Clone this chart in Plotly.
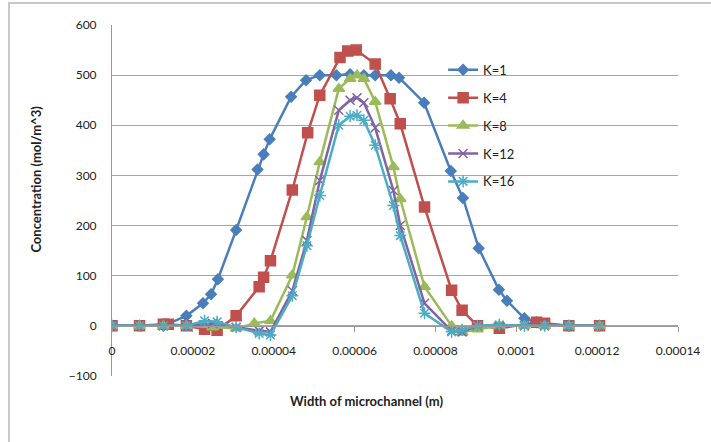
import plotly.graph_objects as go

# x positions in units of 1e-5 m
x_k1 = [0, 0.68, 1.27, 1.84, 2.25, 2.45, 2.62, 3.07, 3.6, 3.75, 3.9, 4.43, 4.8, 5.14, 5.55,
        5.89, 6.23, 6.51, 6.9, 7.1, 7.72, 8.38, 8.68, 9.07, 9.57, 9.77, 10.2, 10.5, 10.7, 11.3, 12.06]
y_k1 = [0, 0, 0, 20, 45, 63, 93, 191, 312, 342, 372, 457, 490, 500, 500,
        502, 500, 500, 500, 495, 445, 309, 255, 155, 72, 50, 15, 7, 3, 0, 0]

x_k4 = [0, 0.68, 1.27, 1.39, 1.84, 2.29, 2.6, 3.07, 3.64, 3.75, 3.92, 4.46, 4.84, 5.14, 5.64,
        5.83, 6.04, 6.51, 6.88, 7.13, 7.73, 8.4, 8.66, 9.04, 9.58, 10.5, 10.7, 11.3, 12.06]
y_k4 = [0, 0, 3, 3, 0, -7, -9, 20, 78, 97, 130, 271, 385, 460, 535,
        548, 550, 522, 453, 403, 237, 71, 31, 0, -5, 7, 5, 0, 0]

x_k8 = [0, 0.68, 1.27, 1.84, 2.49, 3.07, 3.52, 3.92, 4.46, 4.82, 5.14, 5.61, 5.89, 6.06,
        6.23, 6.51, 6.96, 7.13, 7.73, 8.4, 8.66, 9.04, 9.58, 10.2, 10.7, 11.3, 12.06]
y_k8 = [0, 0, 0, 0, -3, -5, 5, 10, 101, 217, 327, 473, 493, 500,
        493, 447, 317, 253, 78, 0, -13, -7, 0, 0, 0, 0, 0]

x_k12 = [0, 0.68, 1.27, 1.84, 2.49, 3.07, 3.64, 3.92, 4.46, 4.82, 5.14, 5.61, 5.89, 6.06,
         6.23, 6.51, 6.96, 7.13, 7.73, 8.4, 8.66, 9.04, 9.58, 10.2, 10.7, 11.3, 12.06]
y_k12 = [0, 0, 0, 0, 5, -3, -10, -12, 70, 170, 290, 430, 450, 455,
         445, 395, 270, 200, 45, -10, -12, 0, 0, 0, 0, 0, 0]

x_k16 = [0, 0.68, 1.27, 1.84, 2.29, 2.6, 3.07, 3.64, 3.92, 4.46, 4.82, 5.14, 5.61, 5.89, 6.06,
         6.23, 6.51, 6.96, 7.13, 7.73, 8.4, 8.66, 9.04, 9.58, 10.2, 10.7, 11.3, 12.06]
y_k16 = [0, 0, 0, 0, 10, 8, -3, -15, -18, 60, 160, 260, 400, 418, 420,
         410, 360, 240, 180, 25, -12, -8, 0, 2, 0, 0, 0, 0]

series_names = ["K=1", "K=4", "K=8", "K=12", "K=16"]
x_tick_vals = [0, 0.00002, 0.00004, 0.00006, 0.00008, 0.0001, 0.00012, 0.00014]
x_tick_text = ["0", "0.00002", "0.00004", "0.00006", "0.00008", "0.0001", "0.00012", "0.00014"]
y_tick_vals = [-100, 0, 100, 200, 300, 400, 500, 600]

colors = ["#4A7EBB", "#C0504D", "#9BBB59", "#8064A2", "#4BACC6"]
symbols = ["diamond", "square", "triangle-up", "x-thin-open", "asterisk-open"]
sizes = [8, 10, 10, 9, 10]

xs = [x_k1, x_k4, x_k8, x_k12, x_k16]
ys = [y_k1, y_k4, y_k8, y_k12, y_k16]

fig = go.Figure()
for i, name in enumerate(series_names):
    fig.add_trace(go.Scatter(
        x=[v * 1e-5 for v in xs[i]], y=ys[i], name=name, mode="lines+markers",
        legendgroup=name,
        line=dict(color=colors[i], width=2.5),
        marker=dict(symbol=symbols[i], size=sizes[i], color=colors[i],
                    line=dict(color=colors[i], width=1.5)),
    ))

font_family = "Lato, 'Open Sans', sans-serif"
fig.update_layout(
    width=711, height=442,
    margin=dict(l=112, r=33, t=25, b=66),
    paper_bgcolor="white", plot_bgcolor="white",
    font=dict(family=font_family, color="#222222", size=12),
    showlegend=True,
    legend=dict(x=0.585, y=0.915, xanchor="left", yanchor="top",
                bgcolor="rgba(0,0,0,0)", font=dict(size=13, color="#222222"),
                tracegroupgap=8),
    xaxis=dict(range=[0, 0.00014], tickvals=x_tick_vals, ticktext=x_tick_text,
               anchor="free", position=100 / 700, showline=True, linecolor="#999999",
               linewidth=1, ticks="outside", ticklen=5, tickcolor="#999999",
               showgrid=False, zeroline=False, ticklabelstandoff=9,
               tickfont=dict(size=12, color="#222222")),
    yaxis=dict(range=[-100, 600], tickvals=y_tick_vals, showline=True,
               linecolor="#999999", linewidth=1, showgrid=True, gridcolor="#A6A6A6",
               gridwidth=1, zeroline=False, ticks="", ticklabelstandoff=12,
               tickfont=dict(size=12, color="#222222")),
)

fig.add_annotation(text="<b>Width of microchannel (m)</b>", xref="paper", yref="paper",
                   x=0.45, y=-0.07, showarrow=False, xanchor="center", yanchor="middle",
                   font=dict(size=13, color="#222222", family=font_family))
fig.add_annotation(text="<b>Concentration (mol/m^3)</b>", xref="paper", yref="paper",
                   x=-0.134, y=0.56, showarrow=False, textangle=-90, xanchor="center",
                   yanchor="middle", font=dict(size=13, color="#222222", family=font_family))

fig.add_shape(type="rect", xref="paper", yref="paper",
              x0=-0.182, x1=1.08, y0=-0.25, y1=1.063,
              line=dict(color="#C8C8C8", width=2), fillcolor="rgba(0,0,0,0)", layer="below")

fig.write_html("out.html")
